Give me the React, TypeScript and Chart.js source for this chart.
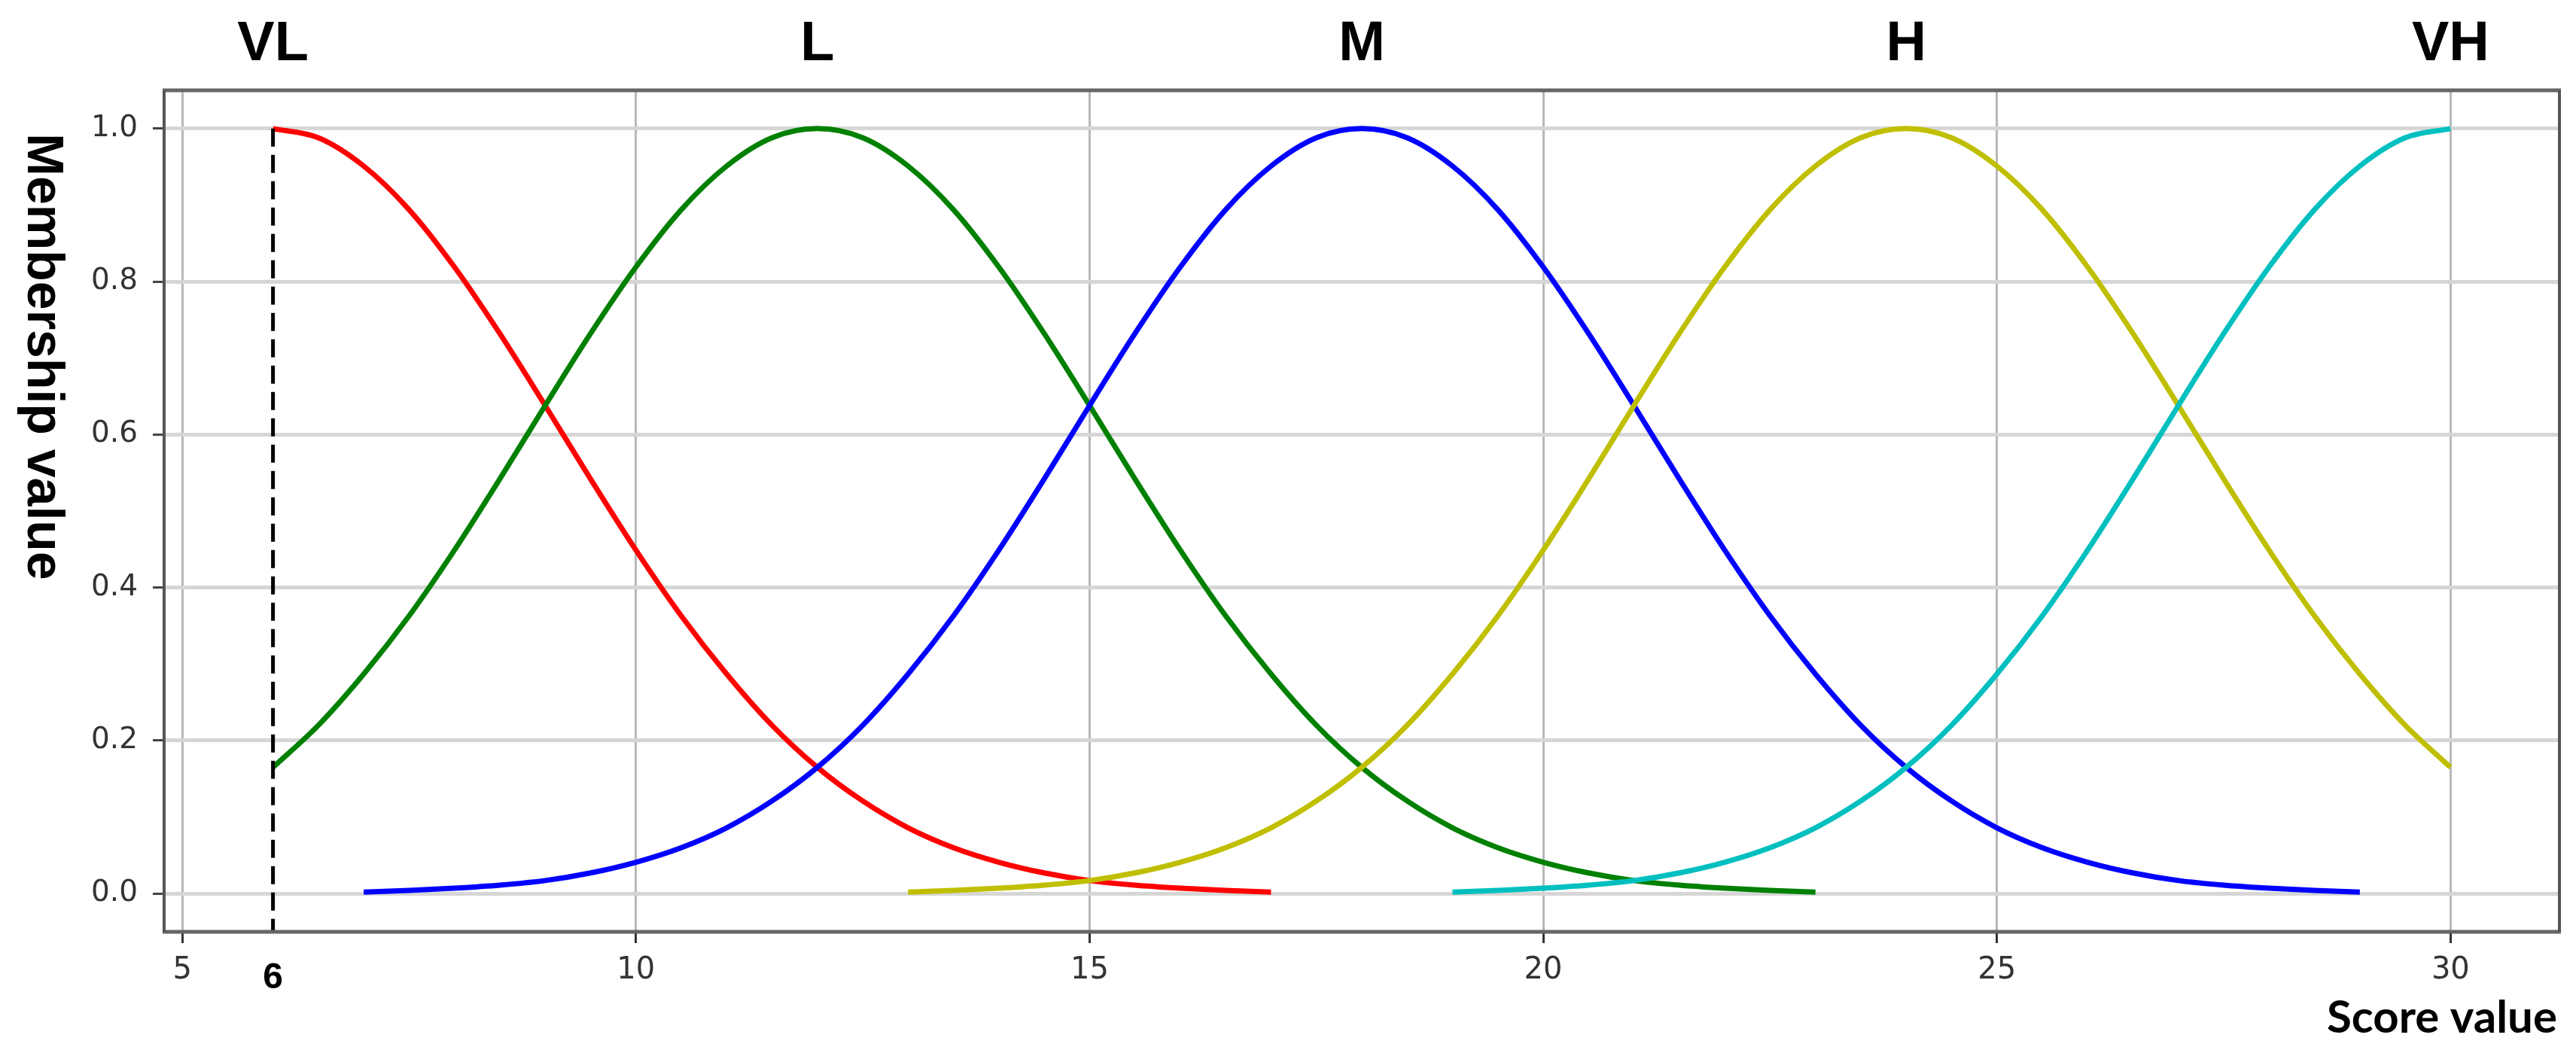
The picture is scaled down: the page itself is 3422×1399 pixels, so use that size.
import React, { useEffect, useRef } from "react";
import { Chart, registerables } from "chart.js";

Chart.register(...registerables);

// ---- data ----
const termNames = ["VL", "L", "M", "H", "VH"];
const termCenters = [6, 12, 18, 24, 30];

// score values at which membership was read (step 0.5)
const scoreGrid = [
  6, 6.5, 7, 7.5, 8, 8.5, 9, 9.5, 10, 10.5, 11, 11.5, 12, 12.5, 13, 13.5, 14, 14.5,
  15, 15.5, 16, 16.5, 17, 17.5, 18, 18.5, 19, 19.5, 20, 20.5, 21, 21.5, 22, 22.5,
  23, 23.5, 24, 24.5, 25, 25.5, 26, 26.5, 27, 27.5, 28, 28.5, 29, 29.5, 30,
];

const _ = null;

const muVL = [
  1.0, 0.988, 0.951, 0.894, 0.819, 0.732, 0.638, 0.542, 0.449, 0.363, 0.287, 0.22,
  0.165, 0.121, 0.086, 0.06, 0.041, 0.027, 0.017, 0.011, 0.007, 0.004, 0.002,
  _, _, _, _, _, _, _, _, _, _, _, _, _, _, _, _, _, _, _, _, _, _, _, _, _, _,
];

const muL = [
  0.165, 0.22, 0.287, 0.363, 0.449, 0.542, 0.638, 0.732, 0.819, 0.894, 0.951, 0.988,
  1.0, 0.988, 0.951, 0.894, 0.819, 0.732, 0.638, 0.542, 0.449, 0.363, 0.287, 0.22,
  0.165, 0.121, 0.086, 0.06, 0.041, 0.027, 0.017, 0.011, 0.007, 0.004, 0.002,
  _, _, _, _, _, _, _, _, _, _, _, _, _, _,
];

const muM = [
  _, _,
  0.002, 0.004, 0.007, 0.011, 0.017, 0.027, 0.041, 0.06, 0.086, 0.121, 0.165, 0.22,
  0.287, 0.363, 0.449, 0.542, 0.638, 0.732, 0.819, 0.894, 0.951, 0.988, 1.0,
  0.988, 0.951, 0.894, 0.819, 0.732, 0.638, 0.542, 0.449, 0.363, 0.287, 0.22, 0.165,
  0.121, 0.086, 0.06, 0.041, 0.027, 0.017, 0.011, 0.007, 0.004, 0.002,
  _, _,
];

const muH = [
  _, _, _, _, _, _, _, _, _, _, _, _, _, _,
  0.002, 0.004, 0.007, 0.011, 0.017, 0.027, 0.041, 0.06, 0.086, 0.121, 0.165, 0.22,
  0.287, 0.363, 0.449, 0.542, 0.638, 0.732, 0.819, 0.894, 0.951, 0.988, 1.0,
  0.988, 0.951, 0.894, 0.819, 0.732, 0.638, 0.542, 0.449, 0.363, 0.287, 0.22, 0.165,
];

const muVH = [
  _, _, _, _, _, _, _, _, _, _, _, _, _, _, _, _, _, _, _, _, _, _, _, _, _, _,
  0.002, 0.004, 0.007, 0.011, 0.017, 0.027, 0.041, 0.06, 0.086, 0.121, 0.165, 0.22,
  0.287, 0.363, 0.449, 0.542, 0.638, 0.732, 0.819, 0.894, 0.951, 0.988, 1.0,
];

const dashX = [6, 6];
const dashY = [1.0, -0.05];

const xTicks = [5, 10, 15, 20, 25, 30];
const yTicks = [0, 0.2, 0.4, 0.6, 0.8, 1.0];
const markedX = 6;

const yTitle = "Membership value";
const xTitle = "Score value";

const W = 3422;
const H = 1399;

const pts = (xs: number[], ys: (number | null)[]) =>
  xs
    .map((x, i) => ({ x, y: ys[i] }))
    .filter((p) => p.y !== null && p.y !== undefined) as { x: number; y: number }[];

const decorPlugin = {
  id: "decor",
  afterDraw(chart: any) {
    const { ctx, chartArea: a, scales } = chart;
    const xs = scales.x;
    ctx.save();
    // frame
    ctx.strokeStyle = "#666666";
    ctx.lineWidth = 5;
    ctx.beginPath();
    ctx.moveTo(a.left - 2, a.top);
    ctx.lineTo(a.right + 2, a.top);
    ctx.moveTo(a.left - 2, a.bottom);
    ctx.lineTo(a.right + 2, a.bottom);
    ctx.stroke();
    ctx.lineWidth = 4;
    ctx.strokeStyle = "#555555";
    ctx.beginPath();
    ctx.moveTo(a.left, a.top);
    ctx.lineTo(a.left, a.bottom);
    ctx.moveTo(a.right, a.top);
    ctx.lineTo(a.right, a.bottom);
    ctx.stroke();

    // term labels
    ctx.fillStyle = "#000000";
    ctx.font = "bold 74px 'Liberation Sans', Arial, sans-serif";
    ctx.textAlign = "center";
    ctx.textBaseline = "alphabetic";
    termNames.forEach((t, i) => {
      ctx.fillText(t, xs.getPixelForValue(termCenters[i]), 80);
    });

    // marked value under axis
    ctx.font = "bold 48px 'Liberation Sans', Arial, sans-serif";
    ctx.textBaseline = "alphabetic";
    ctx.fillText(String(markedX), xs.getPixelForValue(markedX), 1313);

    // y title rotated clockwise
    ctx.save();
    ctx.translate(56, 474);
    ctx.rotate(Math.PI / 2);
    ctx.font = "bold 68px 'Liberation Sans', Arial, sans-serif";
    ctx.textAlign = "center";
    ctx.textBaseline = "middle";
    ctx.fillText(yTitle, 0, 0);
    ctx.restore();

    // x title
    ctx.font = "bold 60px Lato, 'Open Sans', sans-serif";
    ctx.textAlign = "right";
    ctx.textBaseline = "alphabetic";
    ctx.fillText(xTitle, 3397, 1372);
    ctx.restore();
  },
};

export default function App() {
  const ref = useRef<HTMLCanvasElement | null>(null);

  useEffect(() => {
    if (!ref.current) return;
    const line = (label: string, ys: (number | null)[], color: string, order: number) => ({
      label,
      data: pts(scoreGrid, ys),
      borderColor: color,
      backgroundColor: color,
      borderWidth: 7,
      pointRadius: 0,
      fill: false,
      cubicInterpolationMode: "monotone" as const,
      borderCapStyle: "butt" as const,
      order,
    });
    const chart = new Chart(ref.current, {
      type: "line",
      data: {
        datasets: [
          {
            label: "marker",
            data: pts(dashX, dashY),
            borderColor: "#000000",
            borderWidth: 5,
            borderDash: [24, 11],
            pointRadius: 0,
            fill: false,
            order: 0,
          } as any,
          line("VH", muVH, "#00bfbf", 1),
          line("H", muH, "#bfbf00", 2),
          line("M", muM, "#0000ff", 3),
          line("L", muL, "#008000", 4),
          line("VL", muVL, "#ff0000", 5),
        ],
      },
      options: {
        animation: false,
        responsive: false,
        devicePixelRatio: 1,
        layout: { padding: { left: 0, top: 120, right: 22, bottom: 0 } },
        plugins: {
          legend: { display: false },
          tooltip: { enabled: false },
          title: { display: false },
        },
        scales: {
          x: {
            type: "linear",
            min: 4.8,
            max: 31.2,
            afterBuildTicks: (s: any) => {
              s.ticks = xTicks.map((v) => ({ value: v }));
            },
            afterFit: (s: any) => {
              s.height = 161;
            },
            ticks: {
              autoSkip: false,
              maxRotation: 0,
              padding: 13,
              color: "#333333",
              font: { family: "'DejaVu Sans', sans-serif", size: 40 },
              callback: (v: any) => String(v),
            },
            grid: {
              color: "#b8b8b8",
              lineWidth: 3,
              tickColor: "#333333",
              tickLength: 15,
              tickWidth: 3,
            },
            border: { display: false },
          },
          y: {
            type: "linear",
            min: -0.05,
            max: 1.05,
            afterBuildTicks: (s: any) => {
              s.ticks = yTicks.map((v) => ({ value: v }));
            },
            afterFit: (s: any) => {
              s.width = 218;
            },
            ticks: {
              autoSkip: false,
              padding: 20,
              color: "#333333",
              font: { family: "'DejaVu Sans', sans-serif", size: 39 },
              callback: (v: any) => Number(v).toFixed(1),
            },
            grid: {
              color: "#d6d6d6",
              lineWidth: 5,
              tickColor: "#444444",
              tickLength: 15,
              tickWidth: 3,
            },
            border: { display: false },
          },
        },
      },
      plugins: [decorPlugin],
    });
    return () => chart.destroy();
  }, []);

  return (
    <div style={{ position: "fixed", left: 0, top: 0, width: W, height: H, background: "#ffffff" }}>
      <canvas ref={ref} width={W} height={H} style={{ width: W, height: H, display: "block" }} />
    </div>
  );
}
